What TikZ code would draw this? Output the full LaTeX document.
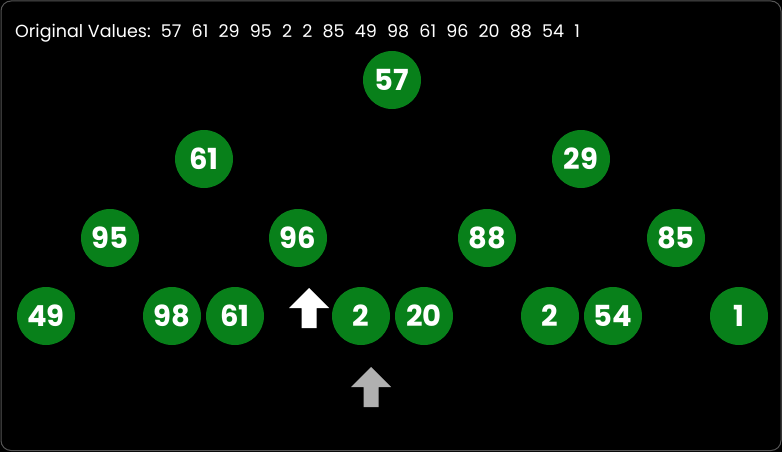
\documentclass[tikz,border=0pt]{standalone}
\usepackage{fontspec}
\setmainfont{Poppins}
\definecolor{nodegreen}{RGB}{8,128,26}
\definecolor{framegray}{RGB}{85,85,85}
\definecolor{ptrgray}{RGB}{176,176,176}
\tikzset{
  heapnode/.style={circle, fill=nodegreen, minimum size=58pt, inner sep=0pt,
    text=white, font=\fontsize{29}{29}\selectfont\bfseries},
}
\def\gap{\hspace{10.2pt}}
\def\uparrowat(#1,#2)[#3]{\fill[#3] (#1,#2) -- (#1+20,#2+20) -- (#1+7.5,#2+20) -- (#1+7.5,#2+40) -- (#1-7.5,#2+40) -- (#1-7.5,#2+20) -- (#1-20,#2+20) -- cycle;}

\begin{document}
\begin{tikzpicture}[x=1pt, y=-1pt]
			%%%%% START %%%%%
			
			\fill[black] (0, 0) rectangle (782, 452);
			\draw[framegray, line width=1pt, rounded corners=10pt] (1, 1) rectangle (781, 450.5);
			
			\node[anchor=base west, inner sep=0pt, text=white, font=\fontsize{17.5}{17.5}\selectfont] (title) at (15, 37.5)
				{Original Values:\gap 57\gap 61\gap 29\gap 95\gap 2\gap 2\gap 85\gap 49\gap 98\gap 61\gap 96\gap 20\gap 88\gap 54\gap 1};
			
			\node[heapnode] (n57) at (392, 80) {57};
			
			\node[heapnode] (n61) at (204, 159) {61};
			\node[heapnode] (n29) at (581, 159) {29};
			
			\node[heapnode] (n95) at (110, 238) {95};
			\node[heapnode] (n96) at (298, 238) {96};
			\node[heapnode] (n88) at (487, 238) {88};
			\node[heapnode] (n85) at (676, 238) {85};
			
			\node[heapnode] (n49) at (46, 316) {49};
			\node[heapnode] (n98) at (172, 316) {98};
			\node[heapnode] (n61b) at (235, 316) {61};
			\node[heapnode] (n2a) at (361, 316) {2};
			\node[heapnode] (n20) at (424, 316) {20};
			\node[heapnode] (n2b) at (550, 316) {2};
			\node[heapnode] (n54) at (613, 316) {54};
			\node[heapnode] (n1) at (739, 316) {1};
			
			\uparrowat(309, 288)[white]
			\uparrowat(371, 367)[ptrgray]
			
			%%%%% END %%%%%
\end{tikzpicture}
\end{document}
